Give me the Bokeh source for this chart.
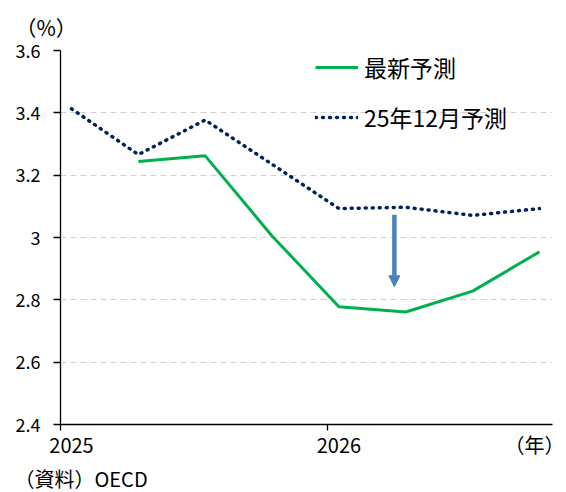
import numpy as np
from bokeh.plotting import figure
from bokeh.models import (Range1d, FixedTicker, Legend, LegendItem, Title,
                          Arrow, NormalHead, LinearAxis)
from bokeh.embed import file_html
from bokeh.resources import INLINE

# ---- data ----
quarters = ["2025Q1", "2025Q2", "2025Q3", "2025Q4",
            "2026Q1", "2026Q2", "2026Q3", "2026Q4"]
latest = [np.nan, 3.244, 3.262, 3.005, 2.778, 2.761, 2.828, 2.954]
dec25 = [3.413, 3.266, 3.377, 3.235, 3.093, 3.097, 3.071, 3.093]
series_names = ["最新予測", "25年12月予測"]
year_labels = ["2025", "2026"]
y_ticks = [2.4, 2.6, 2.8, 3.0, 3.2, 3.4, 3.6]
y_tick_labels = ["2.4", "2.6", "2.8", "3", "3.2", "3.4", "3.6"]

FONT = "Noto Sans CJK JP"
xs = np.arange(len(quarters))
year_idx = [quarters.index(y + "Q1") for y in year_labels]
shift = 0.1645  # year ticks sit slightly before the first quarter point
unit_pos = 7.12  # position of the "（年）" unit label

p = figure(frame_width=492, frame_height=374,
           x_range=Range1d(-shift, 7.195), y_range=Range1d(2.4, 3.6),
           output_backend="svg", toolbar_location=None,
           min_border_left=60, min_border_top=49,
           min_border_right=12, min_border_bottom=69)
p.outline_line_color = None
p.background_fill_color = "white"

# title "（%）"
p.title.text = "（%）"
p.title.align = "left"
p.title.offset = -45
p.title.text_font = FONT
p.title.text_font_size = "21px"
p.title.text_font_style = "normal"
p.title.text_color = "black"
p.title.standoff = 18

# grid
p.xgrid.visible = False
p.ygrid.ticker = FixedTicker(ticks=y_ticks)
p.ygrid.grid_line_color = "#D0D0D0"
p.ygrid.grid_line_dash = "6 4"
p.ygrid.grid_line_width = 1

# y axis
ya = p.yaxis[0]
ya.ticker = FixedTicker(ticks=y_ticks)
ya.major_label_overrides = {t: l for t, l in zip(y_ticks, y_tick_labels)}
ya.major_tick_out = 7
ya.major_tick_in = 0
ya.minor_tick_line_color = None
ya.axis_line_color = "black"
ya.axis_line_width = 1.3
ya.major_tick_line_color = "black"
ya.major_tick_line_width = 1.3
ya.major_label_standoff = 13
ya.major_label_text_font = FONT
ya.major_label_text_font_size = "18px"
ya.major_label_text_color = "black"

# x axis: line + year-boundary ticks
xa = p.xaxis[0]
xa.ticker = FixedTicker(ticks=[i - shift for i in year_idx])
xa.major_label_overrides = {i - shift: "" for i in year_idx}
xa.major_label_text_font_size = "1px"
xa.major_label_standoff = 0
xa.major_tick_out = 6
xa.major_tick_in = 0
xa.minor_tick_line_color = None
xa.axis_line_color = "black"
xa.axis_line_width = 1.3
xa.major_tick_line_color = "black"
xa.major_tick_line_width = 1.3

# x axis: year labels + unit
lab_ticks = list(year_idx) + [unit_pos]
lab_texts = list(year_labels) + ["（年）"]
xb = LinearAxis(ticker=FixedTicker(ticks=lab_ticks),
                major_label_overrides={t: l for t, l in zip(lab_ticks, lab_texts)},
                axis_line_color=None, major_tick_line_color=None,
                minor_tick_line_color=None, major_tick_out=0, major_tick_in=0,
                major_label_standoff=-1, major_label_text_font=FONT,
                major_label_text_font_size="20px",
                major_label_text_color="black")
p.add_layout(xb, "below")

# source note
p.add_layout(Title(text="（資料）OECD", align="left", offset=-46,
                   text_font=FONT, text_font_size="20px",
                   text_font_style="normal", text_color="black",
                   standoff=1), "below")

# lines
r1 = p.line(xs, latest, line_color="#00B050", line_width=3)
r2 = p.line(xs, dec25, line_color="#002060", line_width=3.5,
            line_dash="1 6", line_cap="round")

# arrow
p.add_layout(Arrow(x_start=4.83, y_start=3.073, x_end=4.83, y_end=2.842,
                   line_color="#4F81BD", line_width=4.5,
                   end=NormalHead(size=11, fill_color="#4F81BD",
                                  line_color="#4F81BD")))

# legend
legend = Legend(items=[LegendItem(label=series_names[0], renderers=[r1]),
                       LegendItem(label=series_names[1], renderers=[r2])],
                location=(255, 290.2), orientation="vertical",
                border_line_color=None, background_fill_alpha=0,
                padding=0, margin=0, spacing=16,
                glyph_width=43, glyph_height=30, label_height=30,
                label_width=160, label_standoff=6,
                label_text_font=FONT, label_text_font_size="23px",
                label_text_color="black", label_text_baseline="middle")
p.add_layout(legend, "center")

open("out.html", "w").write(file_html(p, INLINE))
